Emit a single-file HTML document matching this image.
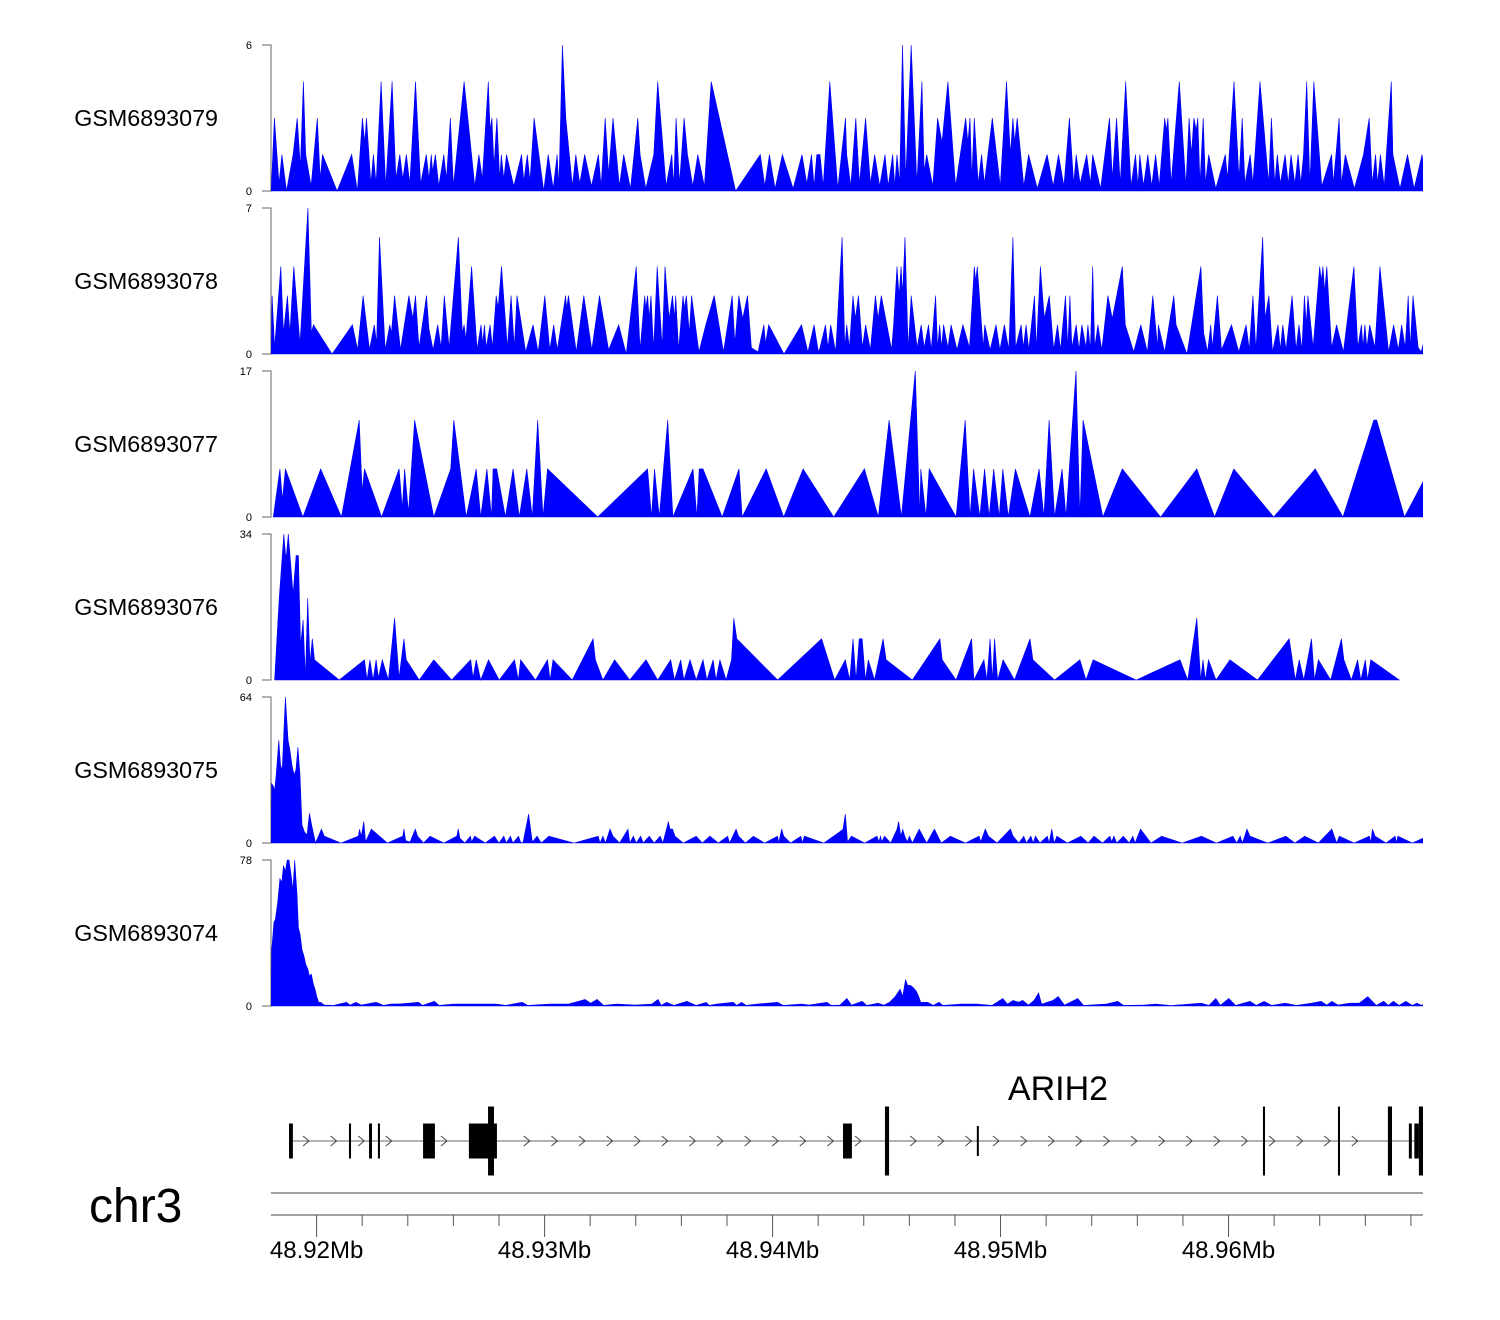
<!DOCTYPE html>
<html><head><meta charset="utf-8"><style>
html,body{margin:0;padding:0;background:#fff;}
svg{display:block;font-family:"Liberation Sans",Arial,sans-serif;}
</style></head><body>
<svg id="chart" width="1500" height="1320" viewBox="0 0 1500 1320" xmlns="http://www.w3.org/2000/svg">
<defs><clipPath id="plotclip"><rect x="271" y="0" width="1152" height="1320"/></clipPath></defs>
<g id="tracks"></g>
<g id="gene"></g>
<g id="axis"></g>
</svg>
<script>
// region (kb offset from 48918 kb)
const regionStart = 0.0, regionEnd = 50.53, genomeOffsetKb = 48918;
const trackNames = ["GSM6893079","GSM6893078","GSM6893077","GSM6893076","GSM6893075","GSM6893074"];
const trackMax = [6,7,17,34,64,78];

const t1Pos = [0.01,0.15,0.35,0.48,0.68,0.97,1.15,1.29,1.42,1.52,1.76,2.03,2.16,2.26,2.9,3.54,3.79,4.01,4.11,4.19,4.38,4.49,4.61,4.83,5.03,5.31,5.48,5.65,5.78,5.94,6.09,6.34,6.56,6.81,6.93,7.03,7.09,7.21,7.36,7.58,7.7,7.87,8.0,8.47,8.94,9.12,9.27,9.53,9.61,9.69,9.78,9.91,10.03,10.1,10.21,10.33,10.65,10.99,11.09,11.24,11.36,11.54,11.96,12.16,12.38,12.55,12.63,12.78,12.93,13.22,13.37,13.54,13.76,14.06,14.36,14.48,14.66,14.81,15.0,15.28,15.47,15.77,16.09,16.19,16.44,16.79,16.96,17.33,17.58,17.66,17.77,17.92,18.12,18.27,18.5,18.72,19.01,19.31,20.38,21.46,21.66,21.86,22.11,22.43,22.9,23.29,23.5,23.71,23.82,23.94,
24.08,24.22,24.51,24.86,25.2,25.25,25.43,25.65,25.81,26.08,26.29,26.48,26.7,26.93,27.07,27.27,27.36,27.46,27.57,27.7,27.84,28.08,28.33,28.55,28.65,28.76,29.03,29.24,29.43,29.69,30.03,30.47,30.57,30.66,30.74,30.85,31.02,31.17,31.29,31.64,31.99,32.26,32.43,32.54,32.62,32.73,33.02,33.23,33.61,34.04,34.31,34.54,34.78,35.02,35.21,35.32,35.49,35.78,35.94,36.04,36.39,36.78,36.9,37.09,37.25,37.49,37.72,37.92,38.03,38.11,38.27,38.46,38.63,38.8,38.96,39.2,39.27,39.34,39.48,39.84,40.13,40.27,40.37,40.48,40.58,40.65,40.75,40.89,40.99,41.13,41.44,41.86,41.96,42.24,42.46,42.6,42.72,42.95,43.07,43.38,43.76,43.88,44.03,44.14,44.27,44.48,44.62,44.74,44.91,45.05,45.17,45.29,45.43,45.57,45.74,46.09,46.52,46.6,46.85,46.95,47.12,47.52,47.92,48.17,48.3,48.45,48.54,48.66,48.83,49.14,49.21,49.52,49.85,50.14,50.49,50.62,50.8];
const t1Val = [0,3,0.3,1.5,0,1.5,3,1,4.5,1.5,0.2,3,0.5,1.5,0,1.5,0,3,2,3,0.3,1.5,0.3,4.5,0.2,4.5,0.5,1.5,0.5,1.5,0.3,4.5,0.3,1.5,0.5,1.5,0.8,1.5,0.2,1.5,0.5,3,0.2,4.5,0.2,1.5,0.5,4.5,2.5,3,1,3,0.5,1.5,0.5,1.5,0.2,1.5,0.4,1.5,0.4,3,0,1.5,0.1,1.5,0.2,6,3,0.2,1.5,0.3,1.5,0.2,1.5,0.2,3,0.7,3,0.2,1.5,0.1,3,1.5,0.1,1.5,4.5,0.2,1.5,0.2,3,0.3,3,1.5,0.2,1.5,0.2,4.5,0,1.5,0.2,1.5,0.1,1.5,0.1,1.5,0.3,1.5,0.2,1.5,
1.5,0.2,4.5,0.1,3,1.5,0.2,3,0.3,3,0.3,1.5,0.2,1.5,0.2,1.5,0.2,1.5,0.3,6,0.5,6,0.3,4.5,0.8,1.5,0.2,3,2,4.5,0.2,3,2,3,0.5,3,0.3,1.5,0.3,3,0.2,4.5,1.5,3,2,3,0.2,1.5,0.1,1.5,0.2,1.5,0.2,3,0.3,1.5,0.3,1.5,0.3,1.5,0.1,3,0.5,3,0.3,4.5,0.2,1.5,0.2,1.5,0.2,1.5,0.2,1.5,0.2,3,2.5,3,0.3,4.5,0.2,3,1.5,3,2.5,3,0.3,3,0.3,1.5,0.1,1.5,0.5,4.5,0.5,3,0.3,1.5,0.3,4.5,0.3,3,0.3,1.5,0.3,1.5,0.3,1.5,0.3,1.5,0.3,1.5,4.5,0.3,4.5,0.2,1.5,0.3,3,0.3,1.5,0.1,1.5,3,0.3,1.5,0.3,1.5,0.2,4.5,1.5,0.1,1.5,0.1,1.5,0.2,1.5];

const t2Pos = [0.01,0.05,0.16,0.43,0.55,0.72,0.83,1.0,1.27,1.62,1.77,1.86,2.68,3.57,3.8,4.04,4.32,4.53,4.63,4.76,5.01,5.21,5.28,5.42,5.68,6.05,6.22,6.34,6.49,6.82,6.93,7.11,7.31,7.46,7.6,7.81,8.22,8.39,8.47,8.55,8.8,9.04,9.21,9.29,9.36,9.44,9.61,9.71,9.88,9.96,10.11,10.37,10.53,10.67,10.79,11.17,11.49,11.72,12.01,12.23,12.4,12.56,12.92,12.97,13.05,13.39,13.72,14.07,14.41,14.81,15.25,15.58,16.02,16.19,16.39,16.44,16.52,16.59,16.67,16.78,16.94,17.16,17.28,17.46,17.61,17.7,17.75,17.88,18.07,18.13,18.22,18.35,18.45,18.77,19.07,19.44,19.85,20.23,20.35,20.52,20.69,20.9,21.07,21.36,21.62,21.69,21.83,22.5,23.27,23.55,23.82,24.01,
24.08,24.32,24.43,24.55,24.77,25.05,25.17,25.25,25.37,25.53,25.63,25.77,25.94,26.08,26.29,26.51,26.63,26.77,27.22,27.31,27.46,27.55,27.64,27.7,27.81,27.95,28.08,28.34,28.52,28.65,28.84,28.96,29.15,29.24,29.33,29.41,29.5,29.69,29.83,30.09,30.35,30.64,30.85,30.91,30.98,31.24,31.31,31.54,31.8,31.97,32.17,32.36,32.54,32.66,32.9,33.0,33.12,33.24,33.49,33.57,33.75,33.92,34.14,34.33,34.5,34.63,34.85,34.95,35.04,35.13,35.32,35.44,35.57,35.75,35.83,35.94,36.04,36.13,36.27,36.44,36.71,36.9,37.34,37.47,37.84,38.15,38.44,38.68,38.89,38.92,39.2,39.6,39.7,40.18,40.79,40.91,41.08,41.22,41.29,41.39,41.51,41.69,42.13,42.45,42.77,42.91,43.07,43.2,43.5,43.6,43.77,43.93,44.17,44.27,44.38,44.52,44.79,44.96,45.09,45.22,45.33,45.41,45.48,45.71,46.0,46.07,46.14,46.22,46.31,46.52,46.74,47.04,47.5,47.67,47.83,47.9,47.98,48.07,48.19,48.42,48.64,49.02,49.24,49.45,49.59,49.75,49.88,49.97,50.09,50.32,50.45,50.75];
const t2Val = [0,2.8,0.3,4.2,1,2.8,1,4.2,0.5,7,1,1.4,0,1.4,0.2,2.8,0.2,1.4,0.5,5.6,0.2,1.4,1,2.8,0.2,2.8,1.7,2.8,0.3,2.8,1.2,0.2,1.4,0.3,2.8,0.3,5.6,1,1.4,0.7,4.2,0.2,1.4,0.5,1.4,0.3,1.4,0.3,2.8,2.2,4.2,0.3,2.8,0.3,2.8,0.1,1.4,0.1,2.8,0.2,1.4,0.2,2.8,2.2,2.8,0.1,2.8,0.2,2.8,0.2,1.4,0,4.2,0.2,2.8,2.2,2.8,1.7,2.8,0.2,4.2,0.3,4.2,1.7,2.8,1.7,2.8,0.2,2.8,2.2,2.8,1,2.8,0.1,1.4,2.8,0.1,2.8,0.5,2.8,1.7,2.8,0.3,0.1,1.4,0.5,1.4,0,1.4,0.1,1.4,0.1,
0.3,1.4,0.3,1.4,0.1,5.6,0.3,1.4,0.3,2.8,1.7,2.8,0.3,1.4,0.2,2.8,1.7,2.8,0.2,1.4,4.2,2.8,4.2,2.8,5.6,0.2,2.8,0.3,1.4,0.3,1.4,0.2,2.8,0.3,1.4,0.3,1.4,0.3,1.4,0.2,1.4,0.3,4.2,3.5,4.2,0.3,1.4,0.2,1.4,0.2,1.4,0.2,5.6,0.3,1.4,0.3,1.4,0.2,2.8,0.2,4.2,1.7,2.8,0.2,1.4,0.2,2.8,0.3,2.8,0.3,1.4,0.2,1.4,0.3,1.4,0.2,4.2,0.3,1.4,0.2,2.8,1.7,4.2,1.4,0.1,1.4,0.1,2.8,0.3,1.4,0.1,2.8,1.4,0,4.2,1,0.1,1.4,0.3,1.4,2.8,0.2,1.4,0.1,1.4,0.2,2.8,0.2,5.6,1.7,2.8,0.1,1.4,0.2,1.4,0.2,2.8,0.2,1.4,0.2,2.8,1.4,2.8,0.3,4.2,3.5,4.2,3,4.2,0.3,1.4,0.1,4.2,0.3,1.4,0.3,1.4,0.3,1.4,0.3,4.2,0.1,1.4,0.2,1.4,0.3,2.8,0.3,2.8,0.3,0.1,1.4];

const t3Pos = [0.1,0.39,0.5,0.63,1.4,2.18,3.09,3.87,4.0,4.1,4.85,5.62,5.76,5.86,6.03,6.3,7.14,7.88,8.02,8.56,9.0,9.2,9.47,9.67,9.74,9.9,10.28,10.62,10.89,11.22,11.46,11.7,11.93,12.13,14.33,16.52,16.69,16.82,17.03,17.4,17.63,18.51,18.68,18.78,18.95,19.79,20.53,20.67,21.72,22.49,23.34,24.68,26.03,26.64,27.11,27.65,28.26,28.46,28.5,28.73,28.87,30.05,30.45,30.66,30.82,31.09,31.3,31.5,31.7,31.94,32.1,32.34,32.65,33.29,33.69,33.9,34.13,34.37,34.7,34.87,35.31,35.48,35.62,36.49,37.34,39.02,40.61,41.39,42.23,43.98,45.8,47.02,48.37,48.5,49.72,50.83];
const t3Val = [0,5.6,2,5.6,0,5.6,0,11.3,3,5.6,0,5.6,1,5.6,0.5,11.3,0,5.6,11.3,0,5.6,0,5.6,0,5.6,5.6,0,5.6,0,5.6,0,11.3,0,5.6,0,5.6,0,5.6,0,11.3,0,5.6,0,5.6,5.6,0,5.6,0,5.6,0,5.6,0,5.6,0,11.3,0,17,0,5.6,0,5.6,0,11.3,0,5.6,0,5.6,0,5.6,0,5.6,0,5.6,0,5.6,0,11.3,0,5.6,0,17,0,11.3,0,5.6,0,5.6,0,5.6,0,5.6,0,11.3,11.3,0,5.6];

const t4Pos = [0.16,0.36,0.56,0.66,0.76,0.97,1.1,1.2,1.3,1.41,1.51,1.61,1.71,1.81,1.91,2.99,4.1,4.21,4.34,4.48,4.61,4.71,4.88,5.15,5.42,5.62,5.83,5.93,6.5,7.14,7.92,8.76,8.86,9.0,9.2,9.54,10.01,10.68,10.85,10.95,11.6,12.13,12.24,12.37,13.21,14.13,14.23,14.56,15.07,15.74,16.45,16.96,17.53,17.7,17.97,18.11,18.38,18.65,18.95,19.12,19.39,19.52,19.69,19.96,20.2,20.3,20.43,22.22,24.15,24.72,25.19,25.39,25.53,25.66,25.8,25.93,26.07,26.2,26.47,26.85,26.98,28.13,29.34,29.44,30.05,30.73,30.83,31.27,31.4,31.54,31.64,31.74,31.87,32.11,32.61,33.29,33.42,34.37,35.48,35.75,36.06,37.95,39.87,40.21,40.61,40.78,40.88,40.98,41.12,41.45,42.06,43.27,44.66,44.93,45.1,45.3,45.64,45.77,45.94,46.48,46.95,47.06,47.39,47.66,47.8,48.0,48.1,48.24,49.49];
const t4Val = [0,19,34,28,34,20,29,29,8,14,0.5,19,4,9.6,4.7,0,4.7,0,4.7,0,4.7,0.5,4.7,0,14.4,0.5,9.6,4.7,0,4.7,0,4.7,0.5,4.7,0,4.7,0,4.7,0,4.7,0,4.7,0,4.7,0,9.6,4.7,0,4.7,0,4.7,0,4.7,0,4.7,0,4.7,0,4.7,0,4.7,0,4.7,0,4.7,14.4,9.6,0,9.6,0,4.7,0,9.6,0,9.6,9.6,0,4.7,0,9.6,4.7,0,9.6,4.7,0,9.6,0,4.7,0,9.6,0,9.6,0,4.7,0,9.6,4.7,0,4.7,0,4.7,0,4.7,0,14.4,0,4.7,0,4.7,0,4.7,0,9.6,0,4.7,0,9.6,0,4.7,0,9.6,4.7,0,4.7,0,4.7,0,4.7,0];

const t5Pos = [0,0.03,0.1,0.16,0.23,0.34,0.42,0.49,0.63,0.75,0.84,0.92,1.01,1.09,1.18,1.27,1.36,1.46,1.53,1.59,1.69,1.78,1.95,2.21,2.34,3.07,3.83,3.88,3.96,4.07,4.15,4.4,5.1,5.78,5.83,5.91,6.1,6.33,6.43,6.69,6.98,7.58,8.15,8.21,8.29,8.5,8.75,8.8,8.93,9.4,9.8,10.0,10.21,10.32,10.5,10.61,10.86,10.94,11.05,11.3,11.46,11.67,11.85,12.19,13.29,14.35,14.43,14.56,14.67,14.87,15.0,15.29,15.66,15.74,15.89,16.02,16.21,16.33,16.59,16.81,17.07,17.19,17.43,17.5,17.61,17.72,18.08,18.65,18.92,19.25,19.62,20.03,20.11,20.4,20.51,20.81,21.16,21.65,22.22,22.27,22.4,22.49,22.79,23.24,23.31,23.39,24.25,
24.96,25.09,25.19,25.29,25.46,26.04,26.58,26.66,26.74,26.79,26.91,27.18,27.46,27.53,27.63,27.71,27.8,27.91,28.0,28.13,28.43,28.76,29.1,29.4,29.8,30.46,31.06,31.13,31.33,31.47,31.85,32.43,32.55,32.8,33.02,33.13,33.33,33.43,33.53,33.73,34.05,34.13,34.25,34.35,34.47,34.93,35.52,35.84,36.1,36.47,36.8,36.87,36.97,37.1,37.39,37.64,37.8,37.9,38.14,38.6,39.07,39.97,40.81,41.47,42.19,42.36,42.51,42.61,42.81,42.94,43.72,44.51,44.91,45.34,45.94,46.53,46.64,46.74,46.86,47.51,48.18,48.24,48.31,48.43,48.91,49.31,49.36,49.43,50.06,50.73,50.81];
const t5Val = [0,26,25,23,30,45,34,32,64,45,40,34,30,32,42,30,8,5,4,4,13,8,0,6.1,3,0,3,6,3,9.4,0.5,6.1,0,3,6.1,1,0.5,6.1,3,0,3,0,3,6.1,2,0,3,0.5,3,0,3,0,3,0,3,0,3,0.5,0,12.7,0.5,3,0,3,0,3,0,3,0,6.1,3,0,6.1,0,3,0,3,0,3,0,3,0,9.4,6.1,6.1,3,0,3,0,3,0,3,0,6.1,3,0,3,0,3,0,6.1,3,0,3,0,3,0,
5,6,12.7,0.5,3,0,3,0.5,3,0.5,3,0,6,9.4,3,6,3,0.5,3,0,6.1,0,6.1,0,3,0,3,0.5,6.1,3,0,6.1,3,0,3,0,3,0,3,0,3,0,6.1,0,3,0,3,0,3,0,3,0.5,3,0,3,0,3,0,6.1,0,3,0,3,0,3,0,3,0,6.1,3,0,3,0,3,0,6.1,3,0,3,0,3,0,6.1,3,0,3,0,3,0,3,0];

const t6Pos = [0,0.03,0.13,0.19,0.29,0.39,0.47,0.55,0.63,0.71,0.79,0.88,0.96,1.04,1.14,1.2,1.28,1.36,1.44,1.53,1.61,1.69,1.77,1.85,1.93,2.01,2.09,2.17,2.34,2.74,3.31,3.47,3.72,3.96,4.61,4.93,5.26,5.75,6.47,6.64,7.17,7.37,8.02,8.75,9.48,9.88,10.29,11.02,11.26,12.24,13.05,13.78,14.02,14.3,14.59,15.16,15.97,16.7,16.98,17.11,17.35,17.67,18.24,18.65,19.09,19.22,19.54,20.27,20.43,20.64,20.84,21.33,22.22,22.46,23.27,23.6,24.38,24.57,
24.96,25.26,25.46,25.93,26.13,26.63,26.88,27.13,27.38,27.6,27.71,27.83,27.93,28.05,28.16,28.3,28.38,28.5,28.8,29.05,29.3,29.46,30.3,30.96,31.63,32.1,32.3,32.55,32.8,32.97,33.22,33.47,33.67,33.8,34.05,34.3,34.53,34.8,35.39,35.64,36.64,37.14,37.39,38.3,38.8,39.47,40.31,40.81,41.14,41.44,41.64,42.01,42.31,42.94,43.22,43.56,43.89,44.48,44.98,45.64,46.06,46.31,46.53,46.81,47.31,47.73,48.11,48.48,48.81,49.01,49.23,49.48,49.78,50.06,50.26,50.48,50.81];
const t6Val = [0,30,45,46,55,68,66,75,72,78,78,70,62,78,60,42,38,30,27,22,20,16,17,12,9,5,2,2,0.5,0.3,2,0.5,2,0.5,2,0.3,1,1.2,2,0.3,2.5,0.3,1,1,1,1,0.3,2,0.3,1,1,3.5,1.5,3.5,0.3,1,0.5,1,3.5,0.3,2,0.3,2.5,0.3,2,0.3,1,2,0.3,2,0.3,1,2,0.3,1,0.5,2,0.3,
0.5,4,0.5,2.5,0.3,1.5,0.5,2,5,9,5,14,11,11,10,8,6,2,2,0.3,2,0.3,1,1,0.3,4,1,3,2,3,0.5,3,7,1,2,3,5,0.5,4,0.3,1,2.5,0.3,0.5,1,0.2,1,1.5,0.3,4,0.3,4,0.3,2.5,0.3,2.5,0.3,1.5,0.3,1.5,2.5,0.5,2.5,0.5,1.5,1.5,5,0.3,2.5,0.3,2.5,0.3,2.5,0.3,1.5,0.3,4];

// gene model (kb offsets)
const exonStart = [0.79,3.42,4.3,4.69,6.67,8.68,9.52,25.09,26.93,30.96,43.51,46.8,48.99,49.91,50.15,50.35];
const exonEnd   = [0.96,3.51,4.43,4.78,7.19,9.91,9.78,25.48,27.11,31.01,43.6,46.89,49.17,50.04,50.35,50.53];
const exonTall  = [0,0,0,0,0,0,1,0,1,2,1,1,1,0,0,1];
const geneName = "ARIH2";
const axisTickKb = [2,4,6,8,10,12,14,16,18,20,22,24,26,28,30,32,34,36,38,40,42,44,46,48,50];
const axisLabels = ["48.92Mb","48.93Mb","48.94Mb","48.95Mb","48.96Mb"];
const axisLabelKb = [2,12,22,32,42];

const NS = "http://www.w3.org/2000/svg";
const X0 = 271, X1 = 1423;
function xScale(kb){ return X0 + (kb - regionStart) / (regionEnd - regionStart) * (X1 - X0); }
function mk(tag, attrs, parent){ const e = document.createElementNS(NS, tag); for (const k in attrs) e.setAttribute(k, attrs[k]); parent.appendChild(e); return e; }

const allPos = [t1Pos,t2Pos,t3Pos,t4Pos,t5Pos,t6Pos];
const allVal = [t1Val,t2Val,t3Val,t4Val,t5Val,t6Val];
const tracksG = document.getElementById('tracks');
for (let i = 0; i < 6; i++) {
  const top = 45 + i * 163, H = 146, base = top + H;
  const yScale = v => base - v / trackMax[i] * H;
  const g = mk('g', {}, tracksG);
  
  
  const lab = mk('text', {x: 218, y: top + H/2 + 8, 'text-anchor': 'end', 'font-size': 23.3, fill: '#000'}, g);
  lab.textContent = trackNames[i];
  
  
  const ax = mk('path', {d: `M262 ${top}H271V${base}H262`, stroke: '#666', 'stroke-width': 1, fill: 'none'}, g);
  
  
  const tMax = mk('text', {x: 252, y: top + 4, 'text-anchor': 'end', 'font-size': 11, fill: '#000'}, g);
  tMax.textContent = trackMax[i];
  
  
  const tMin = mk('text', {x: 252, y: base + 4, 'text-anchor': 'end', 'font-size': 11, fill: '#000'}, g);
  tMin.textContent = '0';
  
  
  const P = allPos[i], V = allVal[i];
  let d = `M${xScale(P[0]).toFixed(1)} ${base}`;
  for (let j = 0; j < P.length; j++) d += ` L${xScale(P[j]).toFixed(1)} ${yScale(V[j]).toFixed(1)}`;
  d += ` L${xScale(P[P.length-1]).toFixed(1)} ${base} Z`;
  const area = mk('path', {d: d, fill: '#0000ff', stroke: '#0000ee', 'stroke-width': 0.6, 'clip-path': 'url(#plotclip)'}, g);
  
  
}

// gene track
const geneG = document.getElementById('gene');
const gy = 1141;
const gname = mk('text', {x: 1058, y: 1100, 'text-anchor': 'middle', 'font-size': 34, fill: '#000'}, geneG);
gname.textContent = geneName;


const gx0 = xScale(exonStart[0]), gx1 = xScale(exonEnd[exonEnd.length-1]);
const gl = mk('line', {x1: gx0, y1: gy, x2: gx1, y2: gy, stroke: '#666', 'stroke-width': 1}, geneG);


for (let x = gx0 + 18; x < gx1 - 5; x += 27.6) {
  const inEx = exonStart.some((s, k) => x > xScale(s) - 6 && x < xScale(exonEnd[k]) + 4);
  if (inEx) continue;
  const ch = mk('path', {d: `M${x-4} ${gy-5}L${x+2} ${gy}L${x-4} ${gy+5}`, stroke: '#444', 'stroke-width': 1, fill: 'none'}, geneG);
  
  
}
for (let k = 0; k < exonStart.length; k++) {
  const xs = xScale(exonStart[k]), xe = xScale(exonEnd[k]);
  const h = exonTall[k] === 1 ? 69 : (exonTall[k] === 2 ? 30 : 35);
  const r = mk('rect', {x: xs, y: gy - h/2, width: Math.max(2, xe - xs), height: h, fill: '#000'}, geneG);
  
  
}

// axis
const axG = document.getElementById('axis');
const sep = mk('line', {x1: X0, y1: 1193, x2: X1, y2: 1193, stroke: '#444', 'stroke-width': 1}, axG);


const al = mk('line', {x1: X0, y1: 1215, x2: X1, y2: 1215, stroke: '#444', 'stroke-width': 1}, axG);


axisTickKb.forEach(kb => {
  const x = xScale(kb), major = axisLabelKb.includes(kb);
  const t = mk('line', {x1: x, y1: 1215, x2: x, y2: major ? 1237 : 1226, stroke: '#555', 'stroke-width': 1}, axG);
  
  
});
axisLabels.forEach((s, k) => {
  const t = mk('text', {x: xScale(axisLabelKb[k]), y: 1258, 'text-anchor': 'middle', 'font-size': 24, fill: '#000'}, axG);
  t.textContent = s;
  
  
});
const chr = mk('text', {x: 89, y: 1222, 'font-size': 48, fill: '#000'}, axG);
chr.textContent = 'chr3';


</script>
</body></html>
